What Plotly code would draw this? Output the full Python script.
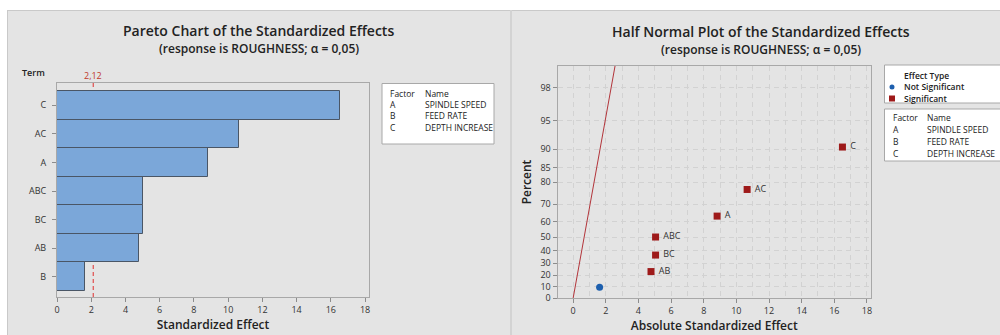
import plotly.graph_objects as go
from statistics import NormalDist

# ---------------- data ----------------
terms = ["B", "AB", "BC", "ABC", "A", "AC", "C"]          # bottom -> top
effects = [1.62, 4.80, 5.05, 5.05, 8.80, 10.65, 16.52]
t_crit = 2.12

hn_terms = ["B", "AB", "BC", "ABC", "A", "AC", "C"]
hn_effects = [1.62, 4.77, 5.05, 5.05, 8.82, 10.66, 16.50]
hn_percent = [9.5, 23.0, 36.5, 50.0, 63.5, 77.0, 90.5]
hn_signif = [False, True, True, True, True, True, True]

pct_ticks = [0, 10, 20, 30, 40, 50, 60, 70, 80, 85, 90, 95, 98]
x_ticks = [0, 2, 4, 6, 8, 10, 12, 14, 16, 18]

factors = ["A", "B", "C"]
factor_names = ["SPINDLE SPEED", "FEED RATE", "DEPTH INCREASE"]

W, H = 1000, 335
FONT = "Open Sans"
nd = NormalDist()
BLUE = "#1d5fae"
RED = "#9e1a1a"


def hq(p):
    """half-normal quantile of a percent"""
    return nd.inv_cdf(0.5 + p / 200.0)


def px(x):
    return x / W


def py(y):
    return 1 - y / H


fig = go.Figure()

# ---------------- Pareto ----------------
fig.add_trace(go.Bar(
    x=effects, y=terms, orientation="h", width=1.0,
    marker=dict(color="#7ba7d9", line=dict(color="#4a5666", width=1)),
    xaxis="x", yaxis="y", showlegend=False, hoverinfo="x+y"))

# ---------------- Half normal ----------------
sig_x = [e for e, s in zip(hn_effects, hn_signif) if s]
sig_y = [hq(p) for p, s in zip(hn_percent, hn_signif) if s]
sig_t = [t for t, s in zip(hn_terms, hn_signif) if s]
ns_x = [e for e, s in zip(hn_effects, hn_signif) if not s]
ns_y = [hq(p) for p, s in zip(hn_percent, hn_signif) if not s]

# reference line (effect = half-normal quantile, sigma = 1)
fig.add_trace(go.Scatter(x=[0, 3], y=[0, 3], mode="lines",
                         line=dict(color="#b2343a", width=1),
                         xaxis="x2", yaxis="y2", showlegend=False,
                         hoverinfo="skip"))
fig.add_trace(go.Scatter(x=ns_x, y=ns_y, mode="markers",
                         marker=dict(symbol="circle", size=7, color=BLUE),
                         xaxis="x2", yaxis="y2", showlegend=False))
fig.add_trace(go.Scatter(x=sig_x, y=sig_y, mode="markers+text",
                         text=[" " + t for t in sig_t], textposition="middle right",
                         textfont=dict(family=FONT, size=9, color="#333333"),
                         marker=dict(symbol="square", size=7, color=RED),
                         cliponaxis=False,
                         xaxis="x2", yaxis="y2", showlegend=False))

tickfont = dict(family=FONT, size=9, color="#333333")
axcommon = dict(showline=True, linecolor="#a8a8a8", linewidth=1, mirror=True,
                ticks="outside", ticklen=4, tickcolor="#8c8c8c",
                tickfont=tickfont, zeroline=False, automargin=False)
GRID = "#d2d2d2"
titlefont = dict(family=FONT, size=12, color="#222222", weight=600)

fig.update_layout(
    width=W, height=H,
    margin=dict(l=0, r=0, t=0, b=0, autoexpand=False),
    paper_bgcolor="white",
    plot_bgcolor="white",
    font=dict(family=FONT, color="#222222"),
    xaxis=dict(domain=[px(57), px(369)], anchor="y", range=[0, 18.23],
               tickvals=x_ticks, showgrid=False,
               title=dict(text="Standardized Effect", font=titlefont, standoff=4),
               **axcommon),
    yaxis=dict(domain=[py(297), py(83)], anchor="x", type="category",
               categoryorder="array", categoryarray=terms,
               range=[-0.71, 6.78], showgrid=False, ticklabelstandoff=4, **axcommon),
    xaxis2=dict(domain=[px(557.5), px(871)], anchor="y2", range=[-0.96, 18.25],
                tickvals=x_ticks, showgrid=True, gridcolor=GRID, griddash="5px,4px",
                minor=dict(dtick=1, tick0=0, showgrid=True, gridcolor=GRID,
                           griddash="5px,4px", ticks=""),
                title=dict(text="Absolute Standardized Effect", font=titlefont, standoff=4),
                **axcommon),
    yaxis2=dict(domain=[py(298), py(66)], anchor="x2", range=[0, 2.566],
                tickvals=[hq(p) for p in pct_ticks],
                ticktext=[str(p) for p in pct_ticks],
                showgrid=True, gridcolor=GRID, griddash="5px,4px",
                title=dict(text="Percent", font=titlefont, standoff=6),
                **axcommon),
    bargap=0,
)

shapes = []
# panel background
shapes.append(dict(type="rect", xref="paper", yref="paper", layer="below",
                   x0=px(7), x1=1.0, y0=0, y1=py(10),
                   fillcolor="#e4e4e4", line=dict(width=0)))
shapes.append(dict(type="line", xref="paper", yref="paper", layer="below",
                   x0=px(7), x1=1.0, y0=py(10.5), y1=py(10.5),
                   line=dict(color="#c9c9c9", width=1)))
shapes.append(dict(type="line", xref="paper", yref="paper", layer="below",
                   x0=px(7.5), x1=px(7.5), y0=0, y1=py(10),
                   line=dict(color="#c9c9c9", width=1)))
shapes.append(dict(type="line", xref="paper", yref="paper", layer="below",
                   x0=px(511), x1=px(511), y0=0, y1=py(10),
                   line=dict(color="#d3d3d3", width=2)))
# critical value line
shapes.append(dict(type="line", xref="x", yref="paper", layer="below",
                   x0=t_crit, x1=t_crit, y0=py(297), y1=py(83),
                   line=dict(color="#e05858", width=1.3, dash="4px,3px")))
# legend boxes
shapes.append(dict(type="rect", xref="paper", yref="paper",
                   x0=px(382), x1=px(494), y0=py(144), y1=py(83.5),
                   fillcolor="white", line=dict(color="#a8a8a8", width=1)))
shapes.append(dict(type="rect", xref="paper", yref="paper",
                   x0=px(884.5), x1=px(1010), y0=py(103), y1=py(65),
                   fillcolor="white", line=dict(color="#a8a8a8", width=1)))
shapes.append(dict(type="rect", xref="paper", yref="paper",
                   x0=px(884.5), x1=px(1010), y0=py(161), y1=py(109),
                   fillcolor="white", line=dict(color="#a8a8a8", width=1)))
# legend symbols
shapes.append(dict(type="circle", xref="paper", yref="paper",
                   x0=px(889.5), x1=px(894.5), y0=py(89.5), y1=py(84.5),
                   fillcolor=BLUE, line=dict(width=0)))
shapes.append(dict(type="rect", xref="paper", yref="paper",
                   x0=px(889), x1=px(895), y0=py(101.5), y1=py(95.5),
                   fillcolor=RED, line=dict(width=0)))

ann = []


def text(x, y, s, size=8, color="#222222", xanchor="left", weight=None):
    f = dict(family=FONT, size=size, color=color)
    if weight:
        f["weight"] = weight
    ann.append(dict(x=px(x), y=py(y), xref="paper", yref="paper", text=s,
                    showarrow=False, xanchor=xanchor, yanchor="middle",
                    font=f))


LF = 8.5
# titles
text(258, 31, "Pareto Chart of the Standardized Effects", size=14, xanchor="center", weight=600)
text(259, 48, "(response is ROUGHNESS; α = 0,05)", size=12, xanchor="center", weight=600)
text(761, 32, "Half Normal Plot of the Standardized Effects", size=14, xanchor="center", weight=600)
text(761, 49, "(response is ROUGHNESS; α = 0,05)", size=12, xanchor="center", weight=600)
text(33, 72, "Term", size=9, xanchor="center", weight=600)
ann.append(dict(x=t_crit, y=py(75), xref="x", yref="paper", text="2,12",
                showarrow=False, xanchor="center", yanchor="middle",
                font=dict(family=FONT, size=9, color="#c0392b")))

# left legend
text(388, 93, "Factor", size=LF)
text(423, 93, "Name", size=LF)
for i, (f, n) in enumerate(zip(factors, factor_names)):
    text(388, 104 + 11.7 * i, f, size=LF)
    text(423, 104 + 11.7 * i, n, size=LF)

# right legend
text(902, 75, "Effect Type", size=LF, weight=600)
text(902, 86.5, "Not Significant", size=LF, weight=600)
text(902, 98, "Significant", size=LF, weight=600)
text(891, 117.5, "Factor", size=LF)
text(925, 117.5, "Name", size=LF)
for i, (f, n) in enumerate(zip(factors, factor_names)):
    text(891, 129.5 + 12.2 * i, f, size=LF)
    text(925, 129.5 + 12.2 * i, n, size=LF)

fig.update_layout(shapes=shapes, annotations=ann)

fig.write_html("out.html", config={"displayModeBar": False},
               post_script="document.body.style.margin='0';"
                           "document.body.style.overflow='hidden';")
